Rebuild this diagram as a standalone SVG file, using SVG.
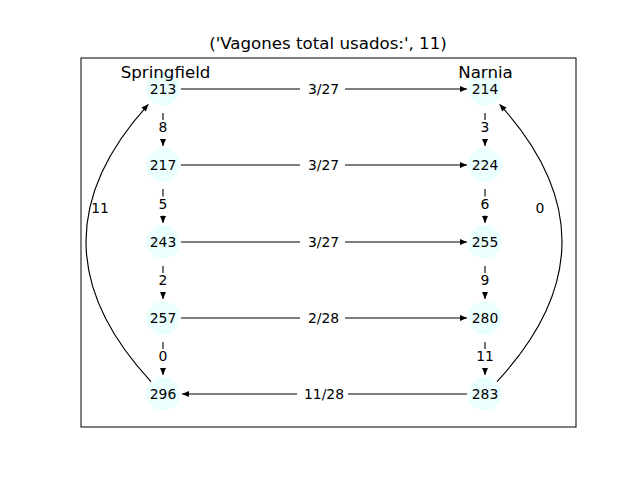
<svg xmlns="http://www.w3.org/2000/svg" width="640" height="480" viewBox="0 0 640 480">
<style>
text{font-family:"DejaVu Sans","Liberation Sans",sans-serif;fill:#000}
.t{font-size:16.67px;text-anchor:middle}
.n{font-size:13.9px;text-anchor:middle;dominant-baseline:central}
.e{fill:none;stroke:#000;stroke-width:1.1}
.lb{fill:#fff;stroke:none}
.node circle{fill:#ebffff;stroke:none}
</style>
<defs>
<marker id="ah" markerUnits="userSpaceOnUse" markerWidth="10" markerHeight="10" viewBox="-1 -4 10 8" refX="7" refY="0" orient="auto">
<path d="M0,-3 L7,0 L0,3 Z" fill="#000"/>
</marker>
</defs>
<rect width="640" height="480" fill="#fff"/>
<text class="t" x="328" y="49">('Vagones total usados:', 11)</text>
<rect x="81" y="58" width="495" height="369" fill="none" stroke="#000" stroke-width="1"/>
<g id="edges">
<line class="e" x1="181" y1="89" x2="467" y2="89" marker-end="url(#ah)"/>
<line class="e" x1="181" y1="165" x2="467" y2="165" marker-end="url(#ah)"/>
<line class="e" x1="181" y1="242" x2="467" y2="242" marker-end="url(#ah)"/>
<line class="e" x1="181" y1="318" x2="467" y2="318" marker-end="url(#ah)"/>
<line class="e" x1="467" y1="394" x2="182" y2="394" marker-end="url(#ah)"/>
<line class="e" x1="163" y1="113" x2="163" y2="146" marker-end="url(#ah)"/>
<line class="e" x1="163" y1="189" x2="163" y2="223" marker-end="url(#ah)"/>
<line class="e" x1="163" y1="266" x2="163" y2="299" marker-end="url(#ah)"/>
<line class="e" x1="163" y1="342" x2="163" y2="375" marker-end="url(#ah)"/>
<line class="e" x1="485" y1="113" x2="485" y2="146" marker-end="url(#ah)"/>
<line class="e" x1="485" y1="189" x2="485" y2="223" marker-end="url(#ah)"/>
<line class="e" x1="485" y1="266" x2="485" y2="299" marker-end="url(#ah)"/>
<line class="e" x1="485" y1="342" x2="485" y2="375" marker-end="url(#ah)"/>
<path class="e" d="M151.2,381.8 Q22.2,243 148.4,104.3" marker-end="url(#ah)"/>
<path class="e" d="M496.8,381.8 Q625.8,243 499.6,104.3" marker-end="url(#ah)"/>
<g id="edge-labels">
<rect class="lb" x="300" y="79" width="45" height="20" rx="4"/>
<text class="n" x="323.5" y="89">3/27</text>
<rect class="lb" x="300" y="155" width="45" height="20" rx="4"/>
<text class="n" x="323.5" y="165">3/27</text>
<rect class="lb" x="300" y="232" width="45" height="20" rx="4"/>
<text class="n" x="323.5" y="242">3/27</text>
<rect class="lb" x="300" y="308" width="45" height="20" rx="4"/>
<text class="n" x="323.5" y="318">2/28</text>
<rect class="lb" x="297" y="384" width="51" height="20" rx="4"/>
<text class="n" x="324" y="394">11/28</text>
<rect class="lb" x="151" y="120" width="24" height="19" rx="4"/>
<text class="n" x="163" y="127">8</text>
<rect class="lb" x="151" y="196.5" width="24" height="19" rx="4"/>
<text class="n" x="163" y="203.5">5</text>
<rect class="lb" x="151" y="273" width="24" height="19" rx="4"/>
<text class="n" x="163" y="280">2</text>
<rect class="lb" x="151" y="349" width="24" height="19" rx="4"/>
<text class="n" x="163" y="356">0</text>
<rect class="lb" x="473" y="120" width="24" height="19" rx="4"/>
<text class="n" x="485" y="127">3</text>
<rect class="lb" x="473" y="196.5" width="24" height="19" rx="4"/>
<text class="n" x="485" y="203.5">6</text>
<rect class="lb" x="473" y="273" width="24" height="19" rx="4"/>
<text class="n" x="485" y="280">9</text>
<rect class="lb" x="470" y="349" width="30" height="19" rx="4"/>
<text class="n" x="485" y="356">11</text>
<text class="n" x="100" y="208">11</text>
<text class="n" x="540" y="208">0</text>
</g>
</g>
<g id="n213" class="node"><circle cx="163" cy="89" r="17"/><text class="n" x="163" y="89">213</text></g>
<g id="n217" class="node"><circle cx="163" cy="165" r="17"/><text class="n" x="163" y="165">217</text></g>
<g id="n243" class="node"><circle cx="163" cy="242" r="17"/><text class="n" x="163" y="242">243</text></g>
<g id="n257" class="node"><circle cx="163" cy="318" r="17"/><text class="n" x="163" y="318">257</text></g>
<g id="n296" class="node"><circle cx="163" cy="394" r="17"/><text class="n" x="163" y="394">296</text></g>
<g id="n214" class="node"><circle cx="485" cy="89" r="17"/><text class="n" x="485" y="89">214</text></g>
<g id="n224" class="node"><circle cx="485" cy="165" r="17"/><text class="n" x="485" y="165">224</text></g>
<g id="n255" class="node"><circle cx="485" cy="242" r="17"/><text class="n" x="485" y="242">255</text></g>
<g id="n280" class="node"><circle cx="485" cy="318" r="17"/><text class="n" x="485" y="318">280</text></g>
<g id="n283" class="node"><circle cx="485" cy="394" r="17"/><text class="n" x="485" y="394">283</text></g>
<text class="t" x="165.5" y="78">Springfield</text>
<text class="t" x="485.5" y="78">Narnia</text>
</svg>
